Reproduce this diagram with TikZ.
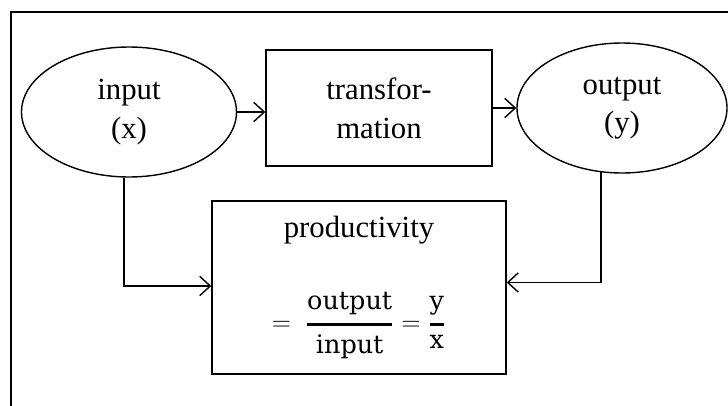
\documentclass[tikz,border=0pt]{standalone}
\usepackage{fontspec}
\setmainfont{Liberation Serif}
\newfontfamily\fracfont{DejaVu Serif}
\usepackage{tikz}
\usetikzlibrary{shapes.geometric,arrows.meta}

\begin{document}
\begin{tikzpicture}[
  line width=0.8pt,
  >={Straight Barb[length=6pt,width=11pt]},
  every node/.style={font=\fontsize{17.5}{22}\selectfont, align=center, inner sep=0pt},
  oval/.style={draw, ellipse, minimum width=4.3cm, minimum height=2.6cm},
  box/.style={draw, rectangle}
]
\useasboundingbox (0,0) rectangle (14.56,8.1);
\clip (0,0) rectangle (14.56,8.1);
\draw (0.22,-1) rectangle (15,7.86);

\node[oval] (input) at (2.58,5.86) {input\\(x)};
\node[box, minimum width=4.52cm, minimum height=2.32cm] (trans) at (7.58,5.94) {transfor-\\mation};
\node[oval, minimum width=4.2cm] (output) at (12.44,5.94) {output\\(y)};
\node[box, minimum width=5.88cm, minimum height=3.46cm] (prod) at (7.18,2.35)
  {productivity\\[26pt]
   {\fracfont\fontsize{14.5}{17}\selectfont
    $=\;\displaystyle{\mbox{\fracfont output}\above1.6pt\mbox{\fracfont input}}
     ={\mbox{\fracfont y}\above1.6pt\mbox{\fracfont x}}$}};

\draw[->] (input.east) -- (input.east -| trans.west);
\draw[->] (trans.east) -- (output.west);
\draw[->] ([xshift=-0.1cm]input.south) |- ([yshift=0.03cm]prod.west);
\draw[->] ([xshift=-0.42cm,yshift=0.03cm]output.south) |- ([yshift=0.1cm]prod.east);
\end{tikzpicture}
\end{document}
